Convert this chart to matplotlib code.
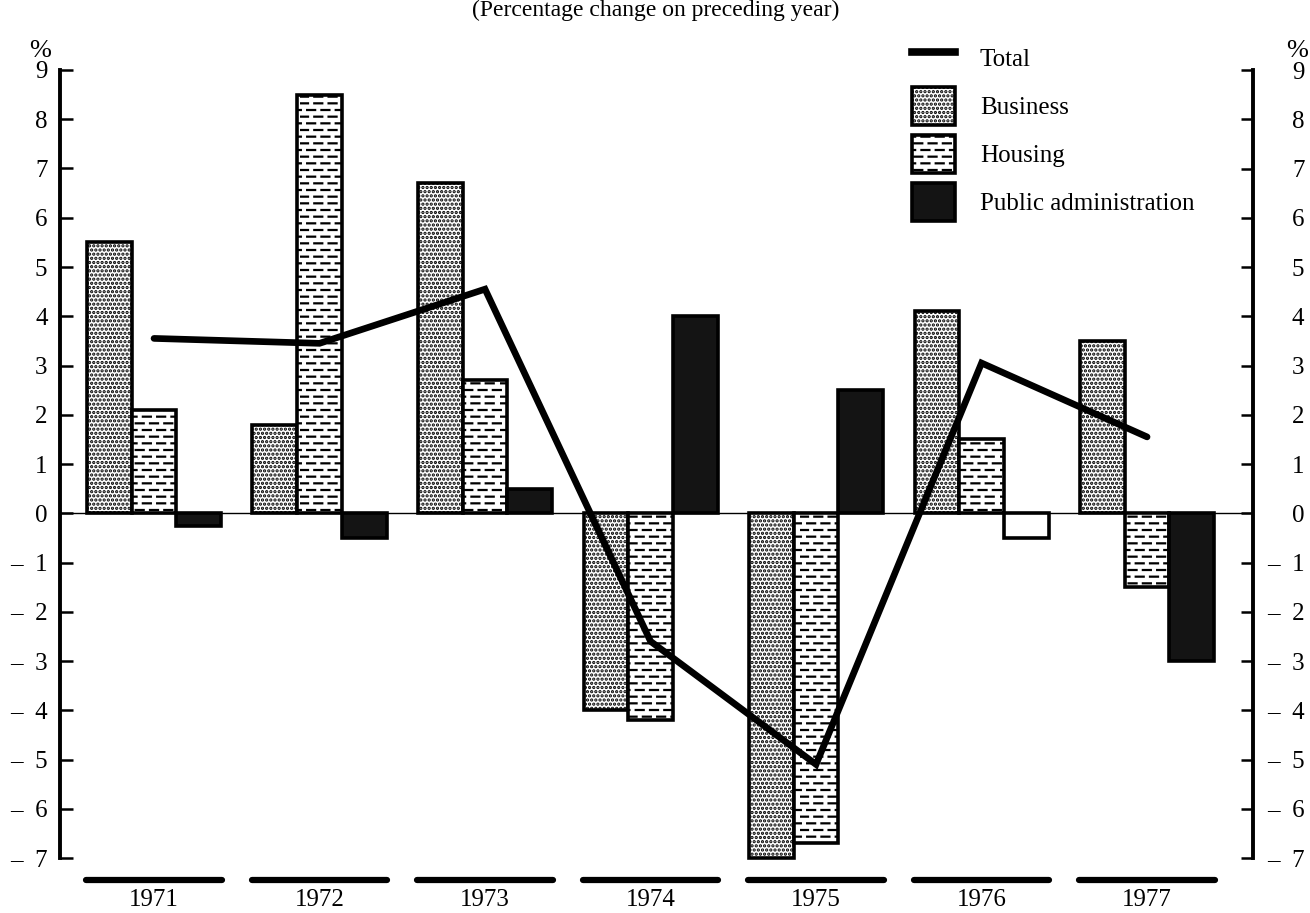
import numpy as np
import matplotlib
matplotlib.use('Agg')
import matplotlib.pyplot as plt
from matplotlib import hatch as mhatch
from matplotlib.path import Path
from matplotlib.lines import Line2D
from matplotlib.patches import Patch

# Data (percentage change on preceding year)
years = ['1971', '1972', '1973', '1974', '1975', '1976', '1977']
business = [5.5, 1.8, 6.7, -4.0, -7.0, 4.1, 3.5]
housing = [2.1, 8.5, 2.7, -4.2, -6.7, 1.5, -1.5]
public_admin = [-0.25, -0.5, 0.5, 4.0, 2.5, -0.5, -3.0]
total = [3.55, 3.45, 4.55, -2.6, -5.1, 3.05, 1.55]

yticks = list(range(-7, 10))
ytick_labels = [f'–  {-v}' if v < 0 else str(v) for v in yticks]


# brick-like dashed hatch for the housing bars (takes over the '-' hatch)
class DashHatch(mhatch.HatchPatternBase):
    def __init__(self, hatch, density):
        rows = hatch.count('-') * 5
        per = 7
        step = 1.0 / per
        dash = 0.08
        self.segs = []
        for r in range(rows):
            y = (r + 0.5) / rows
            shift = step / 2 if r % 2 else 0.0
            for k in range(per):
                x0 = shift + k * step
                x1 = x0 + dash
                if x1 <= 1.0:
                    self.segs.append((x0, x1, y))
                else:
                    self.segs.append((x0, 1.0, y))
                    self.segs.append((0.0, x1 - 1.0, y))
        self.num_vertices = 2 * len(self.segs)

    def set_vertices_and_codes(self, vertices, codes):
        for i, (x0, x1, y) in enumerate(self.segs):
            vertices[2 * i] = (x0, y)
            vertices[2 * i + 1] = (x1, y)
            codes[2 * i] = Path.MOVETO
            codes[2 * i + 1] = Path.LINETO


mhatch._hatch_types[mhatch._hatch_types.index(mhatch.HorizontalHatch)] = DashHatch

plt.rcParams['font.family'] = ['Liberation Serif', 'DejaVu Serif']
plt.rcParams['hatch.linewidth'] = 1.6

W, H = 1310, 913
fig = plt.figure(figsize=(W / 100, H / 100), dpi=100)
ax = fig.add_axes([60 / W, 1 - 858 / H, (1253 - 60) / W, (858 - 70) / H])

x = np.arange(len(years))
bw = 0.27
bar_kw = dict(width=bw, edgecolor='black', linewidth=2.6, clip_on=False, zorder=3)
ax.bar(x - bw, business, facecolor='white', hatch='....', **bar_kw)
ax.bar(x, housing, facecolor='white', hatch='---', **bar_kw)
pub = ax.bar(x + bw, public_admin, facecolor='#141414', **bar_kw)
pub[5].set_facecolor('white')  # 1976 bar is left unfilled in the original

ax.axhline(0, color='black', lw=1.0, zorder=2)
ax.plot(x, total, color='black', lw=4.8, solid_capstyle='round',
        solid_joinstyle='miter', zorder=5)

ax.set_xlim(-0.568, 6.64)
ax.set_ylim(-7, 9)
for s in ['top', 'bottom', 'right']:
    ax.spines[s].set_visible(False)
ax.spines['left'].set_linewidth(2.8)

ax.set_yticks(yticks)
ax.set_yticklabels(ytick_labels)
ax.tick_params(axis='y', direction='in', length=9, width=1.8, labelsize=18, pad=9)

# right-hand scale
ax2 = ax.twinx()
ax2.set_ylim(-7, 9)
for s in ['top', 'bottom', 'left']:
    ax2.spines[s].set_visible(False)
ax2.spines['right'].set_linewidth(2.8)
ax2.set_yticks(yticks)
ax2.set_yticklabels(ytick_labels)
ax2.tick_params(axis='y', direction='in', length=9, width=1.8, labelsize=18, pad=37)
for t in ax2.get_yticklabels():
    t.set_horizontalalignment('right')

# year labels with heavy dashes as the category axis
ax.set_xticks(x)
ax.set_xticklabels(years)
ax.tick_params(axis='x', length=0, labelsize=18, pad=22)
for xi in x:
    ax.plot([xi - 0.41, xi + 0.41], [-0.028, -0.028], transform=ax.get_xaxis_transform(),
            color='black', lw=4.5, solid_capstyle='round', clip_on=False)

fig.text(656 / W, 1.0, '(Percentage change on preceding year)',
         ha='center', va='top', fontsize=17)
fig.text(40 / W, 1 - 51 / H, '%', ha='center', va='center', fontsize=19)
fig.text(1297 / W, 1 - 51 / H, '%', ha='center', va='center', fontsize=19)

handles = [
    Line2D([], [], color='black', lw=5.5),
    Patch(facecolor='white', edgecolor='black', hatch='....', lw=2.6),
    Patch(facecolor='white', edgecolor='black', hatch='---', lw=2.6),
    Patch(facecolor='#141414', edgecolor='black', lw=2.6),
]
labels = ['Total', 'Business', 'Housing', 'Public administration']
fig.legend(handles, labels, loc='upper left', bbox_to_anchor=(912 / W, 1 - 39 / H),
           frameon=False, fontsize=18, handlelength=1.72, handleheight=1.96,
           handletextpad=1.0, labelspacing=0.4, borderpad=0, borderaxespad=0)

fig.savefig('out.png', dpi=100)
